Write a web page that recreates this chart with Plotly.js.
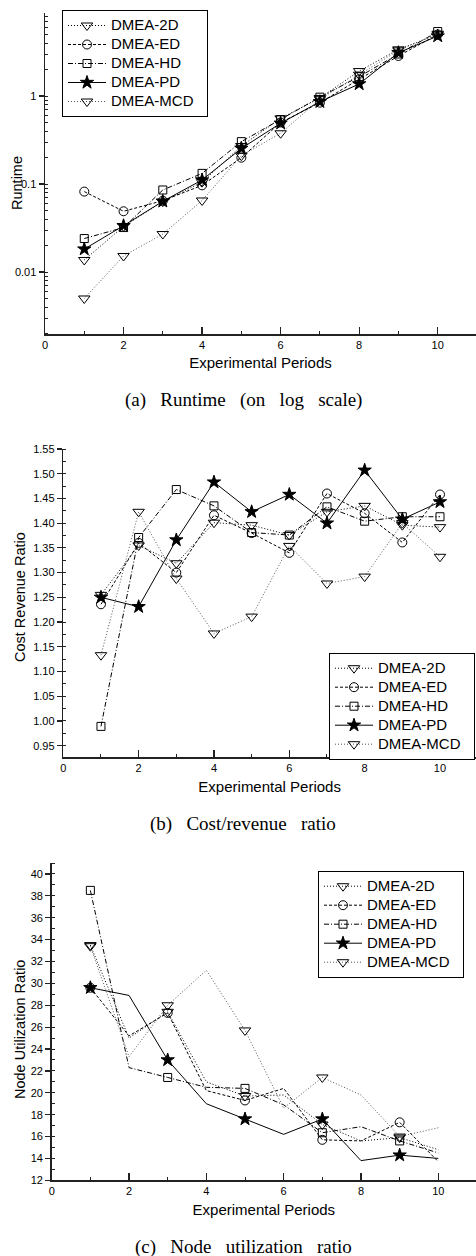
<!DOCTYPE html>
<html><head><meta charset="utf-8">
<script src="https://cdn.plot.ly/plotly-3.0.1.min.js"></script>
<style>html,body{margin:0;padding:0;background:#fff}</style>
</head><body><div id="chart" style="width:476px;height:1256px"></div>
<script>
// ---- data ----
const periods = [1, 2, 3, 4, 5, 6, 7, 8, 9, 10];
const seriesNames = ['DMEA-2D', 'DMEA-ED', 'DMEA-HD', 'DMEA-PD', 'DMEA-MCD'];

// (a) Runtime (log scale)
const runtime2D  = [0.0137, 0.033, 0.063, 0.105, 0.27, 0.557, 0.95, 1.92, 3.39, 5.0];
const runtimeED  = [0.082, 0.049, 0.0646, 0.0966, 0.199, 0.50, 0.84, 1.55, 2.85, 5.0];
const runtimeHD  = [0.024, 0.032, 0.0855, 0.132, 0.303, 0.54, 0.97, 1.66, 3.0, 5.4];
const runtimePD  = [0.0182, 0.0336, 0.0636, 0.111, 0.254, 0.49, 0.86, 1.37, 3.1, 4.8];
const runtimeMCD = [0.0050, 0.0152, 0.027, 0.065, 0.21, 0.377, 0.92, 1.75, 3.3, 5.1];

// (b) Cost/revenue ratio
const cost2D  = [1.255, 1.355, 1.319, 1.401, 1.396, 1.376, 1.423, 1.435, 1.396, 1.392];
const costED  = [1.236, 1.360, 1.300, 1.416, 1.380, 1.340, 1.460, 1.420, 1.361, 1.458];
const costHD  = [0.989, 1.371, 1.468, 1.435, 1.381, 1.376, 1.433, 1.404, 1.413, 1.413];
const costPD  = [1.250, 1.231, 1.366, 1.483, 1.423, 1.458, 1.400, 1.507, 1.408, 1.443];
const costMCD = [1.133, 1.423, 1.288, 1.177, 1.211, 1.354, 1.278, 1.292, 1.400, 1.332];

// (c) Node utilization ratio
const node2D  = [33.5, 25.0, 27.4, 21.0, 19.7, 19.8, 17.1, 15.6, 15.9, 14.8];
const nodeED  = [29.6, 25.2, 27.3, 20.2, 19.3, 20.4, 15.7, 15.6, 17.3, 13.7];
const nodeHD  = [38.5, 22.3, 21.4, 20.5, 20.4, 18.9, 16.35, 16.9, 15.6, 14.5];
const nodePD  = [29.6, 28.9, 23.0, 19.0, 17.6, 16.2, 17.6, 13.8, 14.3, 14.0];
const nodeMCD = [33.4, 23.3, 28.0, 31.2, 25.7, 18.6, 21.4, 19.8, 16.0, 16.8];

const captions = ['(a) Runtime (on log scale)', '(b) Cost/revenue ratio', '(c) Node utilization ratio'];
const xTitle = 'Experimental Periods';
const yTitles = ['Runtime', 'Cost Revenue Ratio', 'Node Utilization Ratio'];

// ---- styles ----
const styles = [
  {dash: '1px,2px', lc: '#000', symbol: 'triangle-down-open', size: 10},
  {dash: '3px,2px', lc: '#000', symbol: 'circle-open', size: 9},
  {dash: '5px,2px,1px,2px', lc: '#000', symbol: 'square-open', size: 8},
  {dash: 'solid', lc: '#000', symbol: 'star', size: 10},
  {dash: '1px,2px', lc: '#555', symbol: 'triangle-down-open', size: 10}
];

const SANS = 'Liberation Sans, Arial, sans-serif';
const SERIF = 'Liberation Serif, Times New Roman, serif';

const panels = [
  {data: [runtime2D, runtimeED, runtimeHD, runtimePD, runtimeMCD], xa: 'x', ya: 'y', legend: 'legend', oddOnly: false},
  {data: [cost2D, costED, costHD, costPD, costMCD], xa: 'x2', ya: 'y2', legend: 'legend2', oddOnly: false},
  {data: [node2D, nodeED, nodeHD, nodePD, nodeMCD], xa: 'x3', ya: 'y3', legend: 'legend3', oddOnly: true}
];

const traces = [];
panels.forEach(p => {
  p.data.forEach((vals, k) => {
    const st = styles[k];
    let mcol = '#000';
    if (p.oddOnly) mcol = periods.map((v, i) => (i % 2 === 0 ? '#000' : 'rgba(0,0,0,0)'));
    traces.push({
      type: 'scatter', mode: 'lines+markers',
      x: periods, y: vals,
      name: '<span style="font-size:15px">' + seriesNames[k] + '&nbsp;&nbsp;</span>',
      xaxis: p.xa, yaxis: p.ya, legend: p.legend,
      line: {color: st.lc, width: 1, dash: st.dash},
      marker: {symbol: st.symbol, size: st.size, color: mcol,
               line: {color: mcol, width: 1}},
      cliponaxis: false
    });
  });
});

const H = 1256, W = 476;
const py = v => (H - v) / H;
const px = v => v / W;

function xaxis(domL, rmax) {
  return {
    domain: [px(domL), 1], range: [0, rmax],
    showline: true, linecolor: '#222', linewidth: 1.5, showgrid: false, zeroline: false,
    ticks: 'inside', ticklen: 7, tickwidth: 1.2, tickcolor: '#222', dtick: 2, tick0: 0,
    minor: {ticks: 'inside', ticklen: 3.5, dtick: 1, tickcolor: '#222', tickwidth: 1},
    tickfont: {family: SANS, size: 11, color: '#000'},
    title: {text: xTitle, font: {family: SANS, size: 15, color: '#000'}, standoff: 8}
  };
}
function yaxisBase(domB, domT) {
  return {
    domain: [py(domB), py(domT)],
    showline: true, linecolor: '#222', linewidth: 1.5, showgrid: false, zeroline: false,
    ticks: 'outside', ticklen: 5, tickwidth: 1.2, tickcolor: '#222',
    tickfont: {family: SANS, size: 11, color: '#000'}
  };
}

const ya = Object.assign(yaxisBase(334, 12.7), {
  type: 'log', range: [-2.7045, 0.9466], dtick: 1, tick0: 0,
  minor: {ticks: 'inside', ticklen: 3, dtick: 'D1', tickcolor: '#222', tickwidth: 1}
});
const yb = Object.assign(yaxisBase(757.3, 449), {
  range: [0.9265, 1.55], dtick: 0.05, tick0: 0.95, tickformat: '.2f',
  minor: {ticks: 'inside', ticklen: 3, dtick: 0.025, tickcolor: '#222', tickwidth: 1}
});
const yc = Object.assign(yaxisBase(1180.3, 862.7), {
  range: [12, 41.03], dtick: 2, tick0: 12,
  minor: {ticks: 'inside', ticklen: 3, dtick: 1, tickcolor: '#222', tickwidth: 1}
});
// overlay axis that adds the inner half of the crossing major ticks in (c)
const yc2 = {
  overlaying: 'y3', anchor: 'x3', side: 'left', domain: yc.domain,
  range: [12, 41.03], dtick: 2, tick0: 12, ticks: 'inside', ticklen: 5, tickwidth: 1.2,
  tickcolor: '#222', showticklabels: false, showline: false, showgrid: false, zeroline: false
};

const xa = Object.assign(xaxis(45, 10.975), {anchor: 'y'});
const xb = Object.assign(xaxis(63.3, 10.956), {anchor: 'y2'});
const xc = Object.assign(xaxis(51.7, 10.975), {anchor: 'y3'});
ya.anchor = 'x'; yb.anchor = 'x2'; yc.anchor = 'x3';

function legendAt(l, t) {
  return {
    x: px(l), y: py(t), xanchor: 'left', yanchor: 'top',
    bgcolor: '#fff', bordercolor: '#000', borderwidth: 1,
    font: {family: SANS, size: 12, color: '#000'},
    itemwidth: 38, tracegroupgap: 0, traceorder: 'normal'
  };
}

const annotations = [];
const capY = [400, 824, 1246.7];
captions.forEach((c, i) => {
  annotations.push({
    text: c.replace(/ /g, ' &nbsp;&nbsp;'), xref: 'paper', yref: 'paper',
    x: px(243.5), y: py(capY[i]), xanchor: 'center', yanchor: 'middle',
    showarrow: false, font: {family: SERIF, size: 19, color: '#000'}
  });
});
const yTitlePos = [[17, 183], [20, 597], [20, 1030]];
yTitles.forEach((t, i) => {
  annotations.push({
    text: t, xref: 'paper', yref: 'paper', textangle: -90,
    x: px(yTitlePos[i][0]), y: py(yTitlePos[i][1]), xanchor: 'center', yanchor: 'middle',
    showarrow: false, font: {family: SANS, size: 14.5, color: '#000'}
  });
});

const layout = {
  width: W, height: H, margin: {l: 0, r: 0, t: 0, b: 0},
  paper_bgcolor: '#fff', plot_bgcolor: '#fff', showlegend: true,
  xaxis: xa, yaxis: ya, xaxis2: xb, yaxis2: yb, xaxis3: xc, yaxis3: yc, yaxis4: yc2,
  legend: legendAt(62, 10), legend2: legendAt(329, 652.7), legend3: legendAt(318, 870.7),
  annotations: annotations,
  font: {family: SANS, color: '#000'}
};

Plotly.newPlot('chart', traces, layout, {displayModeBar: false, staticPlot: true});
</script></body></html>
